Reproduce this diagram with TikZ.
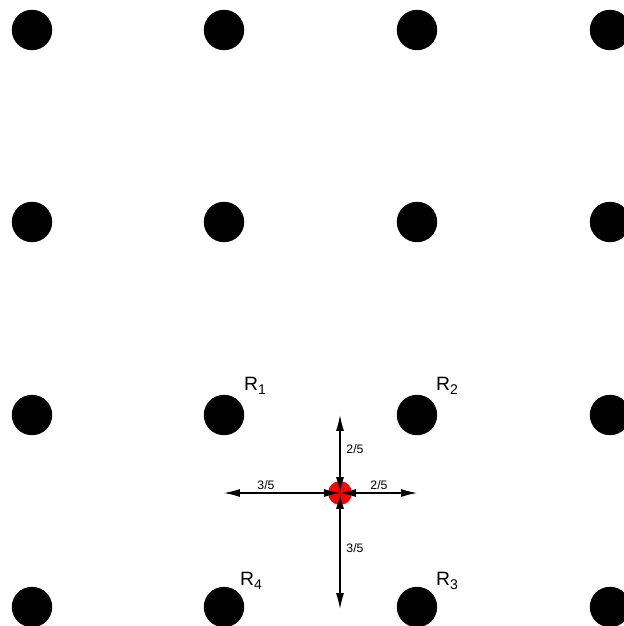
\documentclass[tikz,border=0pt]{standalone}
\usepackage{fontspec}
\setmainfont{Liberation Sans}
\usetikzlibrary{arrows.meta}
\usetikzlibrary{positioning}

\tikzset{
  lattice/.style={circle,fill=black,inner sep=0pt,minimum size=23pt},
  point/.style={circle,fill=red,inner sep=0pt,minimum size=13.6pt},
  dist/.style={line width=0.6pt,{Latex[length=9pt,width=4.5pt]}-{Latex[length=9pt,width=4.5pt]}},
  frac/.style={font=\fontsize{7}{8}\selectfont},
  site/.style={font=\fontsize{11}{12}\selectfont}
}
\newcommand{\lowsub}[1]{\raisebox{-0.45ex}{\fontsize{8}{9}\selectfont #1}}

\begin{document}
\begin{tikzpicture}[x=0.02cm,y=-0.02cm]
                \useasboundingbox (0,0) rectangle (624,626);
                % lattice of sites
                \foreach \i/\xx in {1/32,2/224,3/417,4/610}
                  \foreach \j/\yy in {1/30,2/222,3/415,4/607}
                    \node[lattice] (s\i\j) at (\xx,\yy) {};
                \node[point] (p) at (340,493) {};
                % where the arrows stop
                \coordinate (left) at (224,493);
                \coordinate (right) at (417,493);
                \coordinate (up) at (340,415);
                \coordinate (down) at (340,609);
                \draw[dist] (p.center)--(left);
                \draw[dist] (p.center)--(right);
                \draw[dist] (p.center)--(up);
                \draw[dist] (p.center)--(down);
                \node[frac] (fl) at (266,485) {3/5};
                \node[frac] (fr) at (379,485) {2/5};
                \node[frac] (fu) at (355,449) {2/5};
                \node[frac] (fd) at (355,548) {3/5};
                \node[site] (r1) at (255,386) {R\lowsub{1}};
                \node[site] (r2) at (447,386) {R\lowsub{2}};
                \node[site] (r3) at (447,581) {R\lowsub{3}};
                \node[site] (r4) at (251,581) {R\lowsub{4}};
            \end{tikzpicture}
\end{document}
